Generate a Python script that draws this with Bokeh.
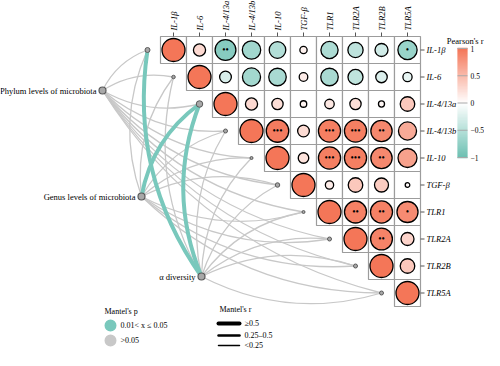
import numpy as np
from bokeh.plotting import figure
from bokeh.models import Range1d, ColumnDataSource, LinearColorMapper
from bokeh.transform import transform
from bokeh.core.properties import value
from bokeh.embed import file_html
from bokeh.resources import INLINE

# ---------------- data ----------------
genes = ["IL-1β", "IL-6", "IL-4/13a", "IL-4/13b", "IL-10",
         "TGF-β", "TLR1", "TLR2A", "TLR2B", "TLR5A"]

# Pearson's r, upper triangle, row i holds columns i..9
r_IL1b   = [1, 0.28, -0.82, -0.64, -0.52, 0.10, -0.56, -0.44, -0.32, -0.70]
r_IL6    = [1, -0.26, -0.62, -0.58, 0.14, -0.58, -0.43, -0.25, -0.16]
r_IL413a = [1, 0.28, 0.24, 0.08, 0.17, 0.24, 0.07, 0.40]
r_IL413b = [1, 0.96, 0.26, 0.93, 0.93, 0.86, 0.62]
r_IL10   = [1, 0.21, 0.93, 0.93, 0.86, 0.68]
r_TGFb   = [1, 0.13, 0.40, 0.37, 0.04]
r_TLR1   = [1, 0.92, 0.92, 0.84]
r_TLR2A  = [1, 0.90, 0.32]
r_TLR2B  = [1, 0.40]
r_TLR5A  = [1]

sig_IL1b   = ["", "", "**", "", "", "", "", "", "", "*"]
sig_IL6    = ["", "", "", "", "", "", "", "", ""]
sig_IL413a = ["", "", "", "", "", "", "", ""]
sig_IL413b = ["", "***", "", "***", "***", "**", ""]
sig_IL10   = ["", "", "***", "***", "**", ""]
sig_TGFb   = ["", "", "", "", ""]
sig_TLR1   = ["", "**", "**", "*"]
sig_TLR2A  = ["", "**", ""]
sig_TLR2B  = ["", ""]
sig_TLR5A  = [""]

corr_rows = [r_IL1b, r_IL6, r_IL413a, r_IL413b, r_IL10, r_TGFb, r_TLR1, r_TLR2A, r_TLR2B, r_TLR5A]
sig_rows = [sig_IL1b, sig_IL6, sig_IL413a, sig_IL413b, sig_IL10, sig_TGFb, sig_TLR1, sig_TLR2A, sig_TLR2B, sig_TLR5A]

mantel_sources = ["Phylum levels of microbiota", "Genus levels of microbiota", "α diversity"]
mantel_r_phylum = [0.12, 0.08, 0.15, 0.10, 0.09, 0.11, 0.07, 0.13, 0.10, 0.06]
mantel_p_phylum = [0.42, 0.61, 0.23, 0.37, 0.55, 0.48, 0.66, 0.31, 0.44, 0.72]
mantel_r_genus  = [0.10, 0.07, 0.56, 0.12, 0.09, 0.14, 0.08, 0.11, 0.06, 0.10]
mantel_p_genus  = [0.35, 0.58, 0.03, 0.29, 0.47, 0.21, 0.62, 0.39, 0.71, 0.33]
mantel_r_alpha  = [0.55, 0.09, 0.57, 0.13, 0.08, 0.12, 0.10, 0.07, 0.11, 0.09]
mantel_p_alpha  = [0.02, 0.51, 0.04, 0.27, 0.63, 0.36, 0.45, 0.68, 0.40, 0.57]
mantel_r = [mantel_r_phylum, mantel_r_genus, mantel_r_alpha]
mantel_p = [mantel_p_phylum, mantel_p_genus, mantel_p_alpha]

cbar_ticks = [-1, -0.5, 0, 0.5, 1]
cbar_labels = ["−1", "−0.5", "0", "0.5", "1"]

# ---------------- layout / style ----------------
FONT = value("Liberation Serif")
TXT = "#000000"
X0, Y0, CW, CH = 173.0, 49.5, 26.0, 27.0           # centre of first cell, cell size (px)
src_pos = [(102.0, 90.0), (141.0, 196.0), (201.0, 276.0)]
target_sizes = [5, 3.5, 6.5, 4, 3, 4.5, 3, 4, 4, 4]
TEAL_EDGE, GRAY_EDGE = "#79C8BC", "#C8C8C8"
CURV = 0.2
W, H = 484, 350

def cx(j): return X0 + CW * j
def cy(i): return Y0 + CH * i

p = figure(width=W, height=H, x_range=Range1d(0, W), y_range=Range1d(H, 0),
           output_backend="svg", toolbar_location=None, x_axis_type=None, y_axis_type=None,
           min_border=0, outline_line_color=None)
p.xgrid.visible = False
p.ygrid.visible = False

# colour mapper teal - white - coral
low_c = np.array([108, 192, 178]); mid_c = np.array([255, 255, 255]); high_c = np.array([244, 118, 88])
pal = []
for t in np.linspace(0, 1, 256):
    if t < 0.5:
        c = low_c + (mid_c - low_c) * (t / 0.5)
    else:
        c = mid_c + (high_c - mid_c) * ((t - 0.5) / 0.5)
    pal.append("#%02x%02x%02x" % tuple(int(round(v)) for v in c))
mapper = LinearColorMapper(palette=pal, low=-1, high=1)

# ---------------- mantel edges ----------------
order = []
for k in range(3):
    sx, sy = src_pos[k]
    for i in range(10):
        tx, ty = cx(i - 1), cy(i)
        dx, dy = tx - sx, ty - sy
        if ty < sy:
            px_, py_ = dy, -dx
        else:
            px_, py_ = -dy, dx
        mx, my = (sx + tx) / 2, (sy + ty) / 2
        rr = mantel_r[k][i]; pp = mantel_p[k][i]
        col = TEAL_EDGE if pp <= 0.05 else GRAY_EDGE
        w = 4.0 if rr >= 0.5 else (2.3 if rr >= 0.25 else 1.3)
        order.append((0 if col == GRAY_EDGE else 1, sx, sy, tx, ty, mx + CURV * px_, my + CURV * py_, col, w))
order.sort(key=lambda o: o[0])
esrc = ColumnDataSource(dict(x0=[o[1] for o in order], y0=[o[2] for o in order],
                             x1=[o[3] for o in order], y1=[o[4] for o in order],
                             cx=[o[5] for o in order], cy=[o[6] for o in order],
                             col=[o[7] for o in order], w=[o[8] for o in order]))
p.quadratic(x0="x0", y0="y0", x1="x1", y1="y1", cx="cx", cy="cy", line_color="col",
            line_width="w", source=esrc)

# nodes
p.scatter(x=[cx(i - 1) for i in range(10)], y=[cy(i) for i in range(10)], size=target_sizes,
          fill_color="#a8a8a8", line_color="#5a5a5a", line_width=1.0)
p.scatter(x=[s[0] for s in src_pos], y=[s[1] for s in src_pos], size=7,
          fill_color="#a8a8a8", line_color="#5a5a5a", line_width=1.2)
p.text(x=[s[0] - 6 for s in src_pos], y=[s[1] for s in src_pos], text=mantel_sources,
       text_font=FONT, text_font_size="8.5px", text_align="right", text_baseline="middle",
       text_color=TXT)

# ---------------- correlation matrix ----------------
mx_, my_, mr, msz, mstar = [], [], [], [], []
for i, row in enumerate(corr_rows):
    for n, val in enumerate(row):
        j = i + n
        mx_.append(cx(j)); my_.append(cy(i)); mr.append(val)
        msz.append(23.0 * np.sqrt(abs(val)))
        mstar.append("•" * len(sig_rows[i][n]))
src = ColumnDataSource(dict(x=mx_, y=my_, r=mr, size=msz, star=mstar))
p.rect(x="x", y="y", width=CW, height=CH, source=src, fill_color="white",
       line_color="#9c9c9c", line_width=1.2)
p.scatter(x="x", y="y", size="size", source=src, fill_color=transform("r", mapper),
          line_color="black", line_width=1.3)
p.text(x="x", y="y", text="star", source=src, text_font=FONT, text_font_size="9.5px",
       text_align="center", text_baseline="middle", text_color="black")

# axis ticks and labels
right_x = cx(9) + CW / 2
p.segment(x0=[right_x] * 10, y0=[cy(i) for i in range(10)], x1=[right_x + 4] * 10,
          y1=[cy(i) for i in range(10)], line_color="#555555", line_width=1)
p.text(x=[right_x + 6] * 10, y=[cy(i) for i in range(10)], text=genes, text_font=FONT,
       text_font_style="italic", text_font_size="8.5px", text_align="left",
       text_baseline="middle", text_color=TXT)
top_y = cy(0) - CH / 2
p.segment(x0=[cx(j) for j in range(10)], y0=[top_y] * 10, x1=[cx(j) for j in range(10)],
          y1=[top_y - 4] * 10, line_color="#555555", line_width=1)
p.text(x=[cx(j) for j in range(10)], y=[top_y - 6] * 10, text=genes, text_font=FONT,
       text_font_style="italic", text_font_size="8.5px", text_align="left",
       text_baseline="middle", angle=np.pi / 2, text_color=TXT)

# ---------------- colour bar (drawn from the mapper) ----------------
BAR_X, BAR_W, BAR_TOP, BAR_BOT = 462.0, 10.0, 48.0, 157.0
cb_vals = np.linspace(-1, 1, 110)
cb_src = ColumnDataSource(dict(v=cb_vals, y=BAR_BOT - (cb_vals + 1) / 2 * (BAR_BOT - BAR_TOP)))
p.rect(x=BAR_X, y="y", width=BAR_W, height=(BAR_BOT - BAR_TOP) / 109 + 0.6, source=cb_src,
       fill_color=transform("v", mapper), line_color=None)
tick_y = [BAR_BOT - (t + 1) / 2 * (BAR_BOT - BAR_TOP) for t in cbar_ticks]
p.segment(x0=[BAR_X - BAR_W / 2] * 5, y0=tick_y, x1=[BAR_X + BAR_W / 2] * 5, y1=tick_y,
          line_color="#a8a8a8", line_width=1)
p.text(x=[BAR_X + BAR_W / 2 + 3] * 5, y=tick_y, text=cbar_labels, text_font=FONT,
       text_font_size="7.5px", text_align="left", text_baseline="middle", text_color=TXT)
p.text(x=[W - 1], y=[40], text=["Pearson's r"], text_font=FONT, text_font_size="8.5px",
       text_align="right", text_baseline="middle", text_color=TXT)

# ---------------- legends ----------------
p.text(x=[104, 219], y=[311, 309], text=["Mantel's p", "Mantel's r"], text_font=FONT,
       text_font_size="8px", text_align="left", text_baseline="middle", text_color=TXT)
p.scatter(x=[110, 110], y=[325, 340], size=12, fill_color=[TEAL_EDGE, GRAY_EDGE], line_color=None)
p.text(x=[120, 120], y=[325, 340], text=["0.01< x ≤ 0.05", ">0.05"], text_font=FONT,
       text_font_size="8px", text_align="left", text_baseline="middle", text_color=TXT)
p.segment(x0=[218] * 3, y0=[323, 335, 345], x1=[239] * 3, y1=[323, 335, 345],
          line_color="black", line_width=[4, 2.5, 1.5], line_cap="round")
p.text(x=[244] * 3, y=[323, 335, 345], text=["≥0.5", "0.25–0.5", "<0.25"], text_font=FONT,
       text_font_size="8px", text_align="left", text_baseline="middle", text_color=TXT)

open("out.html", "w").write(file_html(p, INLINE))
